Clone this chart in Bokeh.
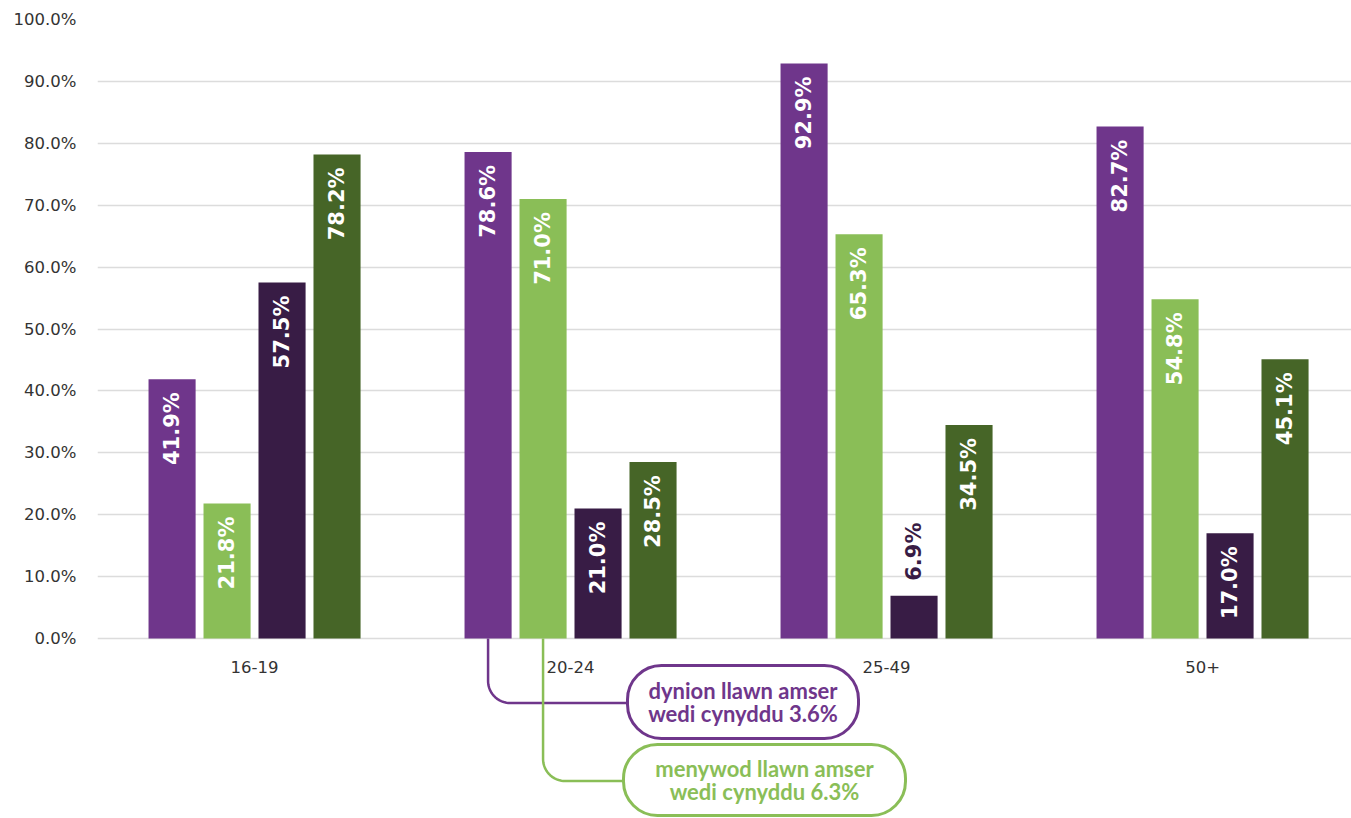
import numpy as np
from bokeh.plotting import figure
from bokeh.models import Range1d, FixedTicker, ColumnDataSource, BoxAnnotation, Label
from bokeh.core.properties import value
from bokeh.embed import file_html
from bokeh.resources import INLINE

# ---------------- data ----------------
categories = ["16-19", "20-24", "25-49", "50+"]
series_names = ["dynion llawn amser", "menywod llawn amser", "dynion rhan amser", "menywod rhan amser"]
dynion_llawn = [41.9, 78.6, 92.9, 82.7]
menywod_llawn = [21.8, 71.0, 65.3, 54.8]
dynion_rhan = [57.5, 21.0, 6.9, 17.0]
menywod_rhan = [78.2, 28.5, 34.5, 45.1]
series_values = [dynion_llawn, menywod_llawn, dynion_rhan, menywod_rhan]
colors = ["#6F368B", "#8ABE57", "#381C45", "#466527"]
y_ticks = [0, 10, 20, 30, 40, 50, 60, 70, 80, 90, 100]
y_tick_labels = ["0.0%", "10.0%", "20.0%", "30.0%", "40.0%", "50.0%",
                 "60.0%", "70.0%", "80.0%", "90.0%", "100.0%"]
ann_texts = ["dynion llawn amser\nwedi cynyddu 3.6%", "menywod llawn amser\nwedi cynyddu 6.3%"]
ann_series = [0, 1]
ann_category = "20-24"

# ---------------- layout ----------------
W, H = 1351, 818
ML, MR, MT, MB = 97, 0, 19, 0
ys = 6.19                      # px per percentage point
y1 = 100.0
y0 = y1 - (H - MT - MB) / ys
xs = 316.0                     # px per category
x0 = -0.497
x1 = x0 + (W - ML - MR) / xs
offsets = [-0.261, -0.087, 0.087, 0.261]
bar_w = 0.149
TICK_FONT = "DejaVu Sans"
LAB_FONT = "DejaVu Sans"
BOX_FONT = "Lato"

p = figure(width=W, height=H, output_backend="svg", toolbar_location=None,
           x_range=Range1d(x0, x1), y_range=Range1d(y0, y1),
           min_border_left=ML, min_border_right=MR, min_border_top=MT, min_border_bottom=MB,
           background_fill_color="white", border_fill_color="white")
p.outline_line_color = None

# axes
p.yaxis.ticker = FixedTicker(ticks=y_ticks)
p.yaxis.major_label_overrides = {t: l for t, l in zip(y_ticks, y_tick_labels)}
p.yaxis.axis_line_color = None
p.yaxis.major_tick_line_color = None
p.yaxis.minor_tick_line_color = None
p.yaxis.major_label_standoff = 15
p.yaxis.major_label_text_font = TICK_FONT
p.yaxis.major_label_text_font_size = "16.5px"
p.yaxis.major_label_text_color = "#333333"

p.xaxis.ticker = FixedTicker(ticks=list(range(len(categories))))
p.xaxis.major_label_overrides = {i: c for i, c in enumerate(categories)}
p.xaxis.fixed_location = 0
p.xaxis.axis_line_color = None
p.xaxis.major_tick_line_color = None
p.xaxis.minor_tick_line_color = None
p.xaxis.major_label_standoff = 16
p.xaxis.major_label_text_font = TICK_FONT
p.xaxis.major_label_text_font_size = "16.5px"
p.xaxis.major_label_text_color = "#333333"

p.xgrid.visible = False
p.ygrid.grid_line_color = "#dcdcdc"
p.ygrid.grid_line_width = 1.5

# bars + labels
idx = np.arange(len(categories))
for k, vals in enumerate(series_values):
    xpos = idx + offsets[k]
    vals = np.array(vals)
    src = ColumnDataSource(dict(x=xpos, top=vals))
    p.vbar(x="x", top="top", width=bar_w, bottom=0, source=src,
           fill_color=colors[k], line_color=None)
    inside = vals >= 10
    lab = [f"{v:.1f}%" for v in vals]
    if inside.any():
        s_in = ColumnDataSource(dict(x=xpos[inside], y=vals[inside] - 13 / ys,
                                     t=[l for l, m in zip(lab, inside) if m]))
        p.text(x="x", y="y", text="t", source=s_in, angle=np.pi / 2,
               text_align="right", text_baseline="middle", text_color="white",
               text_font=value(LAB_FONT), text_font_style="bold", text_font_size="21px")
    if (~inside).any():
        s_out = ColumnDataSource(dict(x=xpos[~inside], y=vals[~inside] + 15 / ys,
                                      t=[l for l, m in zip(lab, inside) if not m]))
        p.text(x="x", y="y", text="t", source=s_out, angle=np.pi / 2,
               text_align="left", text_baseline="middle", text_color=colors[k],
               text_font=value(LAB_FONT), text_font_style="bold", text_font_size="21px")

# annotations (box positions in px: from frame left / below the zero line)
box_px = [  # left, right, top, bottom
    (530, 761, 27, 100),
    (526, 808, 106, 177),
]
ci = categories.index(ann_category)
r = 22
for (l, rr, t, b), k, txt in zip(box_px, ann_series, ann_texts):
    col = colors[k]
    left = x0 + l / xs
    right = x0 + rr / xs
    top = -t / ys
    bottom = -b / ys
    hy = (t + b) / 2 + 1
    bx = ci + offsets[k]
    th = np.linspace(0, np.pi / 2, 20)
    ax = bx + (r - r * np.cos(th)) / xs
    ay = -((hy - r) + r * np.sin(th)) / ys
    lx = np.concatenate([[bx], ax, [left]])
    ly = np.concatenate([[0], ay, [-hy / ys]])
    p.line(lx, ly, line_color=col, line_width=2.5)
    p.add_layout(BoxAnnotation(left=left, right=right, top=top, bottom=bottom,
                               fill_color="white", fill_alpha=1.0, line_color=col,
                               line_width=3, line_alpha=1.0, border_radius=34))
    p.add_layout(Label(x=(left + right) / 2, y=(top + bottom) / 2, text=txt,
                       text_align="center", text_baseline="middle", text_color=col,
                       text_font=BOX_FONT, text_font_style="bold", text_font_size="22px",
                       text_line_height=0.85))

open("out.html", "w").write(file_html(p, INLINE))
